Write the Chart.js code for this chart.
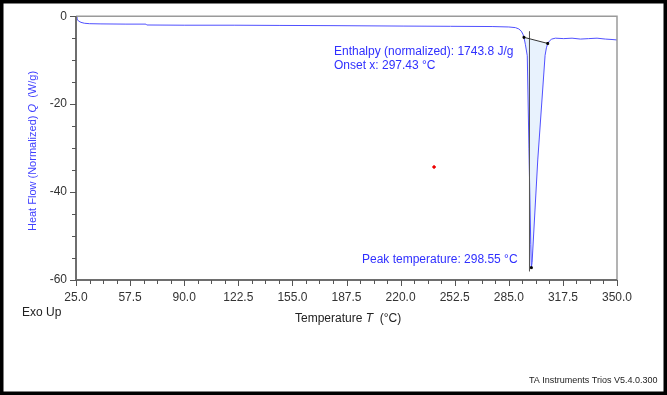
<!DOCTYPE html>
<html><head><meta charset="utf-8">
<script src="https://cdn.jsdelivr.net/npm/chart.js@4/dist/chart.umd.min.js"></script>
<style>html,body{margin:0;padding:0;background:#fff}#wrap{width:667px;height:395px;position:relative}</style>
</head><body><div id="wrap"><canvas id="c" width="667" height="395"></canvas></div>
<script>
// Main DSC curve: temperature (°C) and normalized heat flow (W/g)
const tempC = [25.0,25.5,26.5,28,30,33,40,55,67,67.5,90,120,147,180,222,250,275,285,289,291,292.5,293.5,294.1,295,296.1,297.1,298.2,298.55,299,302.4,306.8,307.6,308.4,309.5,310.8,313,318,323,328,333,338,343,347,350];
const heatFlow = [0,-0.6,-1.1,-1.4,-1.6,-1.7,-1.75,-1.8,-1.8,-2.0,-2.05,-2.05,-2.1,-2.15,-2.25,-2.3,-2.35,-2.45,-2.6,-2.9,-3.4,-4.1,-4.8,-6.5,-9.0,-30,-52,-57.2,-56,-32.7,-8.9,-7.2,-6.2,-5.6,-5.2,-5.0,-5.1,-5.0,-5.2,-5.1,-5.0,-5.2,-5.3,-5.4];
// Integration baseline (start/end of peak)
const baselineT = [294.1, 308.4];
const baselineQ = [-4.8, -6.2];
// Onset / peak
const onsetT = 297.43;
const onsetLineQ = [-3.5, -58];
const peakT = 298.55;
const peakQ = -57.2;
// stray red point
const strayT = [240.1];
const strayQ = [-34.3];
// Axis ticks
const xTicks = [25.0,57.5,90.0,122.5,155.0,187.5,220.0,252.5,285.0,317.5,350.0];
const yTicks = [0,-20,-40,-60];
const texts = {
  enthalpy: 'Enthalpy (normalized): 1743.8 J/g',
  onset: 'Onset x: 297.43 °C',
  peak: 'Peak temperature: 298.55 °C',
  exo: 'Exo Up',
  footer: 'TA Instruments Trios V5.4.0.300'
};

const pts = (xs, ys) => xs.map((x,i)=>({x, y: ys[i]}));
const mainPts = pts(tempC, heatFlow);
const fillPts = mainPts.filter(p => p.x >= baselineT[0] && p.x <= baselineT[1]);

const FONT = '"Liberation Sans", Arial, sans-serif';
const BLUE = 'rgb(48,48,255)';

const decor = {
  id: 'decor',
  afterDraw(chart) {
    const ctx = chart.ctx, a = chart.chartArea;
    const xs = chart.scales.x, ys = chart.scales.y;
    ctx.save();
    // plot box
    ctx.strokeStyle = '#9a9a9a'; ctx.lineWidth = 1.5;
    ctx.beginPath();
    ctx.moveTo(a.left, a.top); ctx.lineTo(a.right, a.top); ctx.lineTo(a.right, a.bottom);
    ctx.stroke();
    ctx.strokeStyle = '#6e6e6e'; ctx.lineWidth = 2;
    ctx.beginPath();
    ctx.moveTo(a.left, a.top); ctx.lineTo(a.left, a.bottom); ctx.lineTo(a.right, a.bottom);
    ctx.stroke();
    // ticks
    ctx.lineWidth = 1; ctx.strokeStyle = '#555';
    ctx.beginPath();
    for (let v = 25; v <= 350.001; v += 8.125) {
      const px = Math.round(xs.getPixelForValue(v)) + 0.5;
      const major = Math.abs(((v - 25) / 32.5) - Math.round((v - 25) / 32.5)) < 1e-6;
      ctx.moveTo(px, a.bottom); ctx.lineTo(px, a.bottom + (major ? 6 : 4));
    }
    for (let v = 0; v >= -60; v -= 5) {
      const py = Math.round(ys.getPixelForValue(v)) + 0.5;
      const major = v % 20 === 0;
      ctx.moveTo(a.left, py); ctx.lineTo(a.left - (major ? 6 : 4), py);
    }
    ctx.stroke();
    // annotations
    ctx.fillStyle = BLUE; ctx.font = '12px ' + FONT; ctx.textBaseline = 'middle'; ctx.textAlign = 'left';
    ctx.fillText(texts.enthalpy, 334, 52);
    ctx.fillText(texts.onset, 334, 66);
    ctx.fillText(texts.peak, 362, 260);
    // x title with italic T
    ctx.fillStyle = '#222';
    let x0 = 295, y0 = 319;
    ctx.font = '12px ' + FONT;
    ctx.fillText('Temperature ', x0, y0); x0 += ctx.measureText('Temperature ').width;
    ctx.font = 'italic 12px ' + FONT;
    ctx.fillText('T', x0, y0); x0 += ctx.measureText('T').width;
    ctx.font = '12px ' + FONT;
    ctx.fillText('  (°C)', x0, y0);
    ctx.fillText(texts.exo, 22, 313);
    ctx.font = '9px ' + FONT;
    ctx.fillText(texts.footer, 529, 381);
    // y title rotated with italic Q
    ctx.save();
    ctx.translate(33, 151); ctx.rotate(-Math.PI/2);
    ctx.fillStyle = 'rgb(64,64,255)';
    const parts = [['Heat Flow (Normalized) ', '11px '], ['Q', 'italic 11px '], ['  (W/g)', '11px ']];
    let w = 0;
    parts.forEach(p => { ctx.font = p[1] + FONT; w += ctx.measureText(p[0]).width; });
    let xx = -w/2;
    ctx.textAlign = 'left';
    parts.forEach(p => { ctx.font = p[1] + FONT; ctx.fillText(p[0], xx, 0); xx += ctx.measureText(p[0]).width; });
    ctx.restore();
    // outer black frame
    ctx.strokeStyle = '#000'; ctx.lineWidth = 3.5;
    ctx.strokeRect(1.75, 1.75, chart.width - 3.5, chart.height - 3.5);
    ctx.restore();
  }
};

new Chart(document.getElementById('c'), {
  type: 'scatter',
  data: {
    datasets: [
      { label: 'curve', data: mainPts, showLine: true, borderColor: 'rgb(80,80,255)', borderWidth: 1, pointRadius: 0, fill: false, order: 1 },
      { label: 'baseline', data: pts(baselineT, baselineQ), showLine: true, borderColor: '#333', borderWidth: 1, pointRadius: 1.3, pointStyle: 'rect', pointBackgroundColor: '#000', pointBorderColor: '#000', fill: false, order: 0 },
      { label: 'area', data: fillPts, showLine: true, borderWidth: 0, borderColor: 'rgba(0,0,0,0)', backgroundColor: 'rgb(232,242,253)', pointRadius: 0, fill: 1, order: 3 },
      { label: 'onset', data: [{x: onsetT, y: onsetLineQ[0]}, {x: onsetT, y: onsetLineQ[1]}], showLine: true, borderColor: '#555', borderWidth: 1, pointRadius: 0, fill: false, order: 0 },
      { label: 'peak', data: [{x: peakT, y: peakQ}], pointRadius: 1.3, pointStyle: 'rect', pointBackgroundColor: '#000', pointBorderColor: '#000', order: 0 },
      { label: 'stray', data: pts(strayT, strayQ), pointRadius: 1.3, pointBackgroundColor: '#e00', pointBorderColor: '#e00', order: 0 }
    ]
  },
  options: {
    responsive: false, animation: false,
    layout: { padding: { top: 16, right: 50, left: 0, bottom: 0 } },
    plugins: { legend: { display: false }, tooltip: { enabled: false } },
    scales: {
      x: {
        type: 'linear', min: 25, max: 350,
        afterFit(s) { s.height = 115; },
        afterBuildTicks(s) { s.ticks = xTicks.map(v => ({ value: v })); },
        ticks: { padding: 10, color: '#333', font: { family: FONT, size: 12 }, callback: v => Number(v).toFixed(1), maxRotation: 0, autoSkip: false },
        grid: { display: false, drawTicks: false },
        border: { display: false }
      },
      y: {
        min: -60, max: 0,
        afterFit(s) { s.width = 76; },
        afterBuildTicks(s) { s.ticks = yTicks.map(v => ({ value: v })); },
        ticks: { padding: 9, color: '#333', font: { family: FONT, size: 12 }, autoSkip: false },
        grid: { display: false, drawTicks: false },
        border: { display: false }
      }
    }
  },
  plugins: [decor]
});
</script></body></html>
